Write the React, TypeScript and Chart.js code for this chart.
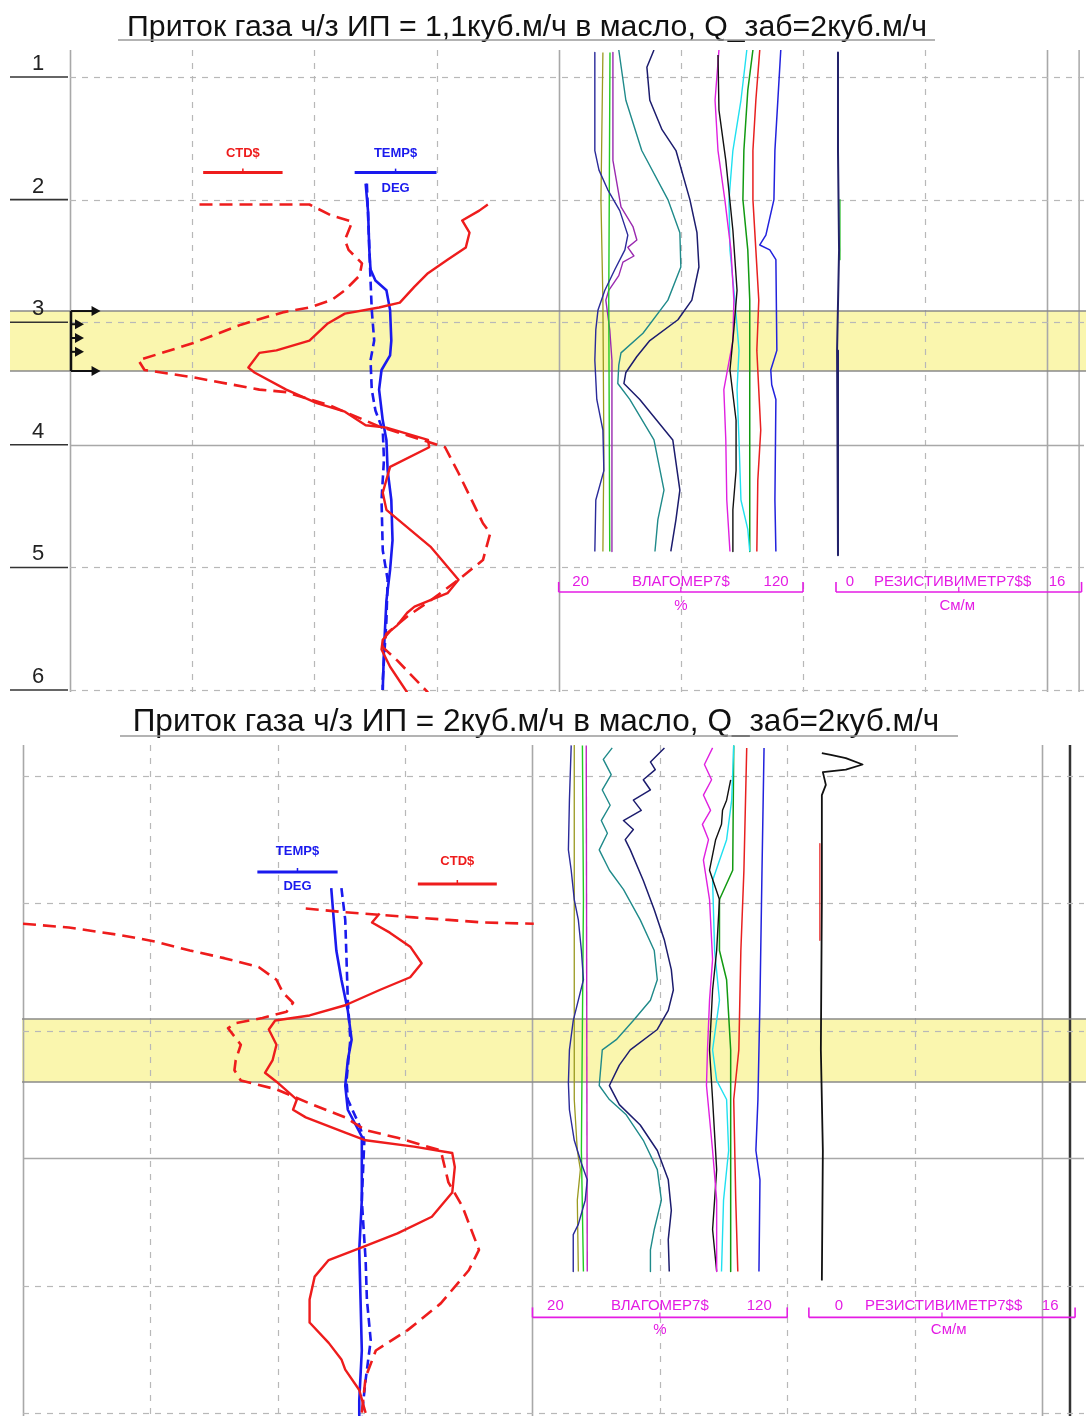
import React, { useEffect, useRef } from 'react';
import { Chart, registerables } from 'chart.js';

Chart.register(...registerables);

type P = [number, number];

// ---------------- Panel 1 data (x: track units / % / См/м, y: depth) ----------------
const P1_TITLE = 'Приток газа ч/з ИП = 1,1куб.м/ч в масло, Q_заб=2куб.м/ч';
const DEPTH_TICKS = [1, 2, 3, 4, 5, 6];

const P1_CTD_SOLID: P[] = [
  [3.42, 2.04], [3.35, 2.09], [3.21, 2.17], [3.27, 2.27], [3.24, 2.39], [3.09, 2.49], [2.93, 2.6],
  [2.82, 2.71], [2.7, 2.84], [2.53, 2.88], [2.25, 2.93], [2.11, 3.01], [1.96, 3.15], [1.69, 3.23],
  [1.55, 3.25], [1.46, 3.37], [1.51, 3.41], [1.77, 3.55], [2.02, 3.66], [2.25, 3.73], [2.42, 3.84],
  [2.59, 3.86], [2.93, 3.96], [2.94, 4.02], [2.62, 4.18], [2.56, 4.39], [2.59, 4.53], [2.95, 4.83],
  [3.18, 5.1], [3.09, 5.21], [2.82, 5.32], [2.76, 5.37], [2.68, 5.47], [2.62, 5.52], [2.56, 5.59],
  [2.55, 5.67], [2.62, 5.81], [2.76, 6.02],
];
const P1_CTD_DASH: P[] = [
  [1.06, 2.04], [1.96, 2.04], [2.14, 2.13], [2.31, 2.18], [2.25, 2.33], [2.28, 2.41], [2.39, 2.52],
  [2.37, 2.62], [2.25, 2.74], [2.14, 2.82], [1.96, 2.88], [1.74, 2.92], [1.4, 3.02], [1.01, 3.17],
  [0.56, 3.31], [0.61, 3.39], [1.01, 3.45], [1.55, 3.55], [1.77, 3.57], [2.13, 3.68], [2.53, 3.85],
  [3.07, 4.02], [3.18, 4.23], [3.38, 4.64], [3.44, 4.72], [3.38, 4.94], [3.18, 5.1], [2.95, 5.27],
  [2.76, 5.4], [2.59, 5.54], [2.56, 5.65], [2.68, 5.76], [2.93, 6.02],
];
const P1_TEMP_SOLID: P[] = [
  [2.42, 1.87], [2.44, 2.1], [2.45, 2.41], [2.46, 2.57], [2.5, 2.66], [2.59, 2.74], [2.62, 2.9],
  [2.63, 3.15], [2.62, 3.27], [2.55, 3.39], [2.53, 3.55], [2.56, 3.8], [2.59, 3.96], [2.6, 4.21],
  [2.63, 4.45], [2.64, 4.78], [2.62, 5.02], [2.59, 5.27], [2.57, 5.67], [2.56, 6.0],
];
const P1_TEMP_DASH: P[] = [
  [2.43, 1.87], [2.46, 2.66], [2.47, 2.9], [2.49, 3.15], [2.46, 3.31], [2.47, 3.55], [2.5, 3.72],
  [2.56, 3.88], [2.57, 4.12], [2.55, 4.45], [2.56, 4.86], [2.6, 5.1], [2.59, 5.43], [2.56, 5.92],
  [2.56, 6.0],
];

// ВЛАГОМЕР7$ curves, %
const P1_M_NAVY1: P[] = [
  [34.8, 0.8], [34.8, 1.6], [36.5, 1.76], [40.1, 1.92], [45.0, 2.09], [48.3, 2.29], [47.1, 2.41],
  [43.0, 2.57], [38.9, 2.74], [36.1, 2.9], [35.2, 3.06], [34.8, 3.31], [35.6, 3.63], [38.1, 3.88],
  [38.5, 4.21], [35.2, 4.45], [34.8, 4.87],
];
const P1_M_PURPLE: P[] = [
  [42.2, 0.8], [42.2, 1.68], [45.5, 2.06], [50.4, 2.22], [52.0, 2.33], [48.3, 2.39], [50.8, 2.46],
  [46.3, 2.51], [44.6, 2.62], [40.5, 2.74], [39.3, 2.82], [40.9, 3.06], [41.8, 3.31], [41.8, 4.87],
];
const P1_M_OLIVE: P[] = [[38.1, 0.8], [37.3, 2.0], [38.1, 2.82], [38.5, 4.04], [38.1, 4.87]];
const P1_M_GREEN: P[] = [[41.0, 0.8], [40.5, 2.82], [40.9, 4.87]];
const P1_M_TEAL: P[] = [
  [44.6, 0.78], [47.5, 1.19], [54.0, 1.6], [64.7, 2.0], [69.6, 2.27], [70.0, 2.55], [64.7, 2.82],
  [54.5, 3.09], [45.5, 3.25], [44.6, 3.35], [44.2, 3.5], [49.1, 3.63], [59.0, 3.96], [63.1, 4.37],
  [60.6, 4.61], [59.4, 4.87],
];
const P1_M_NAVY2: P[] = [
  [59.0, 0.78], [56.1, 0.92], [57.3, 1.19], [62.3, 1.43], [68.0, 1.6], [73.7, 2.0], [76.6, 2.27],
  [77.4, 2.55], [74.5, 2.82], [68.8, 2.98], [57.3, 3.15], [52.0, 3.28], [47.5, 3.41], [46.7, 3.5],
  [53.2, 3.63], [66.7, 3.96], [69.6, 4.37], [68.0, 4.61], [65.9, 4.87],
];
const P1_M_MAGENTA: P[] = [
  [85.6, 0.78], [84.0, 1.19], [85.2, 1.6], [88.0, 2.0], [90.5, 2.41], [91.7, 2.82], [91.3, 3.15],
  [87.6, 3.55], [88.4, 3.96], [88.8, 4.45], [90.1, 4.87],
];
const P1_M_BLACK: P[] = [
  [85.2, 0.82], [85.6, 1.27], [88.4, 1.68], [91.3, 2.25], [93.0, 2.74], [91.7, 3.06], [90.1, 3.39],
  [92.6, 3.8], [92.6, 4.21], [91.3, 4.53], [91.3, 4.87],
];
const P1_M_CYAN: P[] = [
  [97.0, 0.78], [94.6, 1.19], [91.3, 1.6], [89.7, 2.0], [90.1, 2.41], [92.1, 2.82], [93.8, 3.23],
  [93.0, 3.55], [93.8, 3.96], [94.6, 4.45], [97.4, 4.69], [98.2, 4.87],
];
const P1_M_DGREEN: P[] = [
  [99.5, 0.78], [97.4, 1.11], [95.8, 1.6], [95.4, 2.0], [97.4, 2.41], [98.2, 2.82], [98.2, 3.63], [98.2, 4.87],
];
const P1_M_RED: P[] = [
  [102.3, 0.78], [100.7, 1.19], [99.5, 1.6], [99.5, 2.0], [100.7, 2.41], [101.9, 2.82], [101.1, 3.23],
  [102.7, 3.88], [101.5, 4.29], [101.1, 4.87],
];
const P1_M_BLUE: P[] = [
  [110.9, 0.78], [109.7, 1.19], [108.5, 1.6], [108.1, 2.0], [104.8, 2.29], [102.3, 2.37], [106.4, 2.41],
  [108.9, 2.49], [109.3, 3.23], [106.8, 3.39], [107.2, 3.51], [108.9, 3.63], [108.5, 4.45], [108.9, 4.87],
];
// РЕЗИСТИВИМЕТР7$$, См/м
const P1_R_MAIN: P[] = [[0.13, 0.8], [0.13, 1.6], [0.2, 2.41], [0.07, 3.23], [0.13, 4.04], [0.13, 4.9]];
const P1_R_GREEN: P[] = [[0.26, 2.0], [0.26, 2.49]];

// ---------------- Panel 2 data ----------------
const P2_TITLE = 'Приток газа ч/з ИП = 2куб.м/ч в масло, Q_заб=2куб.м/ч';

const P2_CTD_SOLID: P[] = [
  [2.8, 2.08], [2.74, 2.15], [2.88, 2.23], [3.04, 2.34], [3.13, 2.47], [3.04, 2.58], [2.8, 2.68],
  [2.53, 2.8], [2.25, 2.88], [1.98, 2.92], [1.93, 2.99], [1.99, 3.11], [1.96, 3.23], [1.9, 3.33],
  [1.99, 3.4], [2.15, 3.54], [2.12, 3.62], [2.22, 3.68], [2.53, 3.8], [2.69, 3.86], [3.07, 3.91],
  [3.37, 3.96], [3.39, 4.07], [3.37, 4.27], [3.21, 4.46], [2.94, 4.59], [2.66, 4.7], [2.4, 4.8],
  [2.29, 4.93], [2.25, 5.11], [2.25, 5.29], [2.4, 5.45], [2.5, 5.58], [2.53, 5.66], [2.64, 5.82],
  [2.69, 6.0],
];
const P2_CTD_DASH_A: P[] = [
  [2.22, 2.04], [2.53, 2.07], [2.8, 2.09], [3.07, 2.11], [3.34, 2.13], [3.61, 2.15], [4.01, 2.16],
];
const P2_CTD_DASH_B: P[] = [
  [0.0, 2.16], [0.36, 2.19], [0.77, 2.25], [1.04, 2.3], [1.31, 2.37], [1.58, 2.43], [1.85, 2.5],
  [1.99, 2.6], [2.04, 2.7], [2.12, 2.78], [2.07, 2.85], [1.88, 2.9], [1.67, 2.94], [1.61, 2.98],
  [1.71, 3.11], [1.67, 3.23], [1.66, 3.31], [1.71, 3.39], [1.99, 3.46], [2.25, 3.57], [2.53, 3.68],
  [2.69, 3.78], [2.94, 3.84], [3.28, 3.94], [3.34, 4.19], [3.45, 4.38], [3.58, 4.72], [3.5, 4.88],
  [3.28, 5.14], [3.02, 5.35], [2.77, 5.51], [2.69, 5.72], [2.66, 6.0],
];
const P2_TEMP_SOLID: P[] = [
  [2.42, 1.88], [2.44, 2.13], [2.46, 2.37], [2.5, 2.6], [2.55, 2.84], [2.58, 3.07], [2.55, 3.23],
  [2.53, 3.43], [2.55, 3.62], [2.66, 3.83], [2.66, 4.33], [2.64, 4.72], [2.65, 5.11], [2.66, 5.51],
  [2.64, 5.9], [2.64, 6.02],
];
const P2_TEMP_DASH: P[] = [
  [2.5, 1.88], [2.53, 2.13], [2.54, 2.44], [2.55, 2.76], [2.57, 3.07], [2.54, 3.39], [2.55, 3.54],
  [2.64, 3.74], [2.68, 3.86], [2.66, 4.33], [2.69, 4.8], [2.7, 5.11], [2.73, 5.43], [2.69, 5.74],
  [2.66, 6.02],
];

const P2_M_NAVY1: P[] = [
  [35.2, 0.76], [34.5, 1.19], [34.1, 1.58], [35.2, 1.74], [36.4, 1.97], [38.0, 2.13], [39.2, 2.37],
  [40.0, 2.6], [38.0, 2.76], [36.0, 2.92], [34.5, 3.15], [34.1, 3.41], [34.5, 3.62], [36.4, 3.86],
  [39.2, 4.04], [41.5, 4.17], [40.7, 4.33], [38.0, 4.52], [36.0, 4.6], [36.0, 4.89],
];
const P2_M_OLIVE: P[] = [[36.4, 0.76], [36.4, 3.54], [37.6, 3.94], [38.8, 4.09], [37.6, 4.33], [38.0, 4.89]];
const P2_M_GREEN: P[] = [[39.6, 0.76], [40.0, 1.97], [39.2, 3.94], [40.0, 4.89]];
const P2_M_PURPLE: P[] = [[41.1, 0.76], [41.5, 4.89]];
const P2_M_TEAL: P[] = [
  [51.3, 0.78], [47.8, 0.87], [50.9, 0.99], [47.4, 1.11], [50.5, 1.23], [47.0, 1.35], [49.4, 1.45],
  [46.2, 1.58], [50.2, 1.74], [55.7, 1.89], [62.3, 2.13], [67.8, 2.37], [69.0, 2.6], [66.3, 2.76],
  [59.6, 2.92], [52.9, 3.07], [47.4, 3.15], [46.2, 3.43], [50.2, 3.54], [56.8, 3.66], [63.5, 3.86],
  [69.0, 4.09], [70.6, 4.33], [67.8, 4.56], [66.3, 4.72], [66.3, 4.89],
];
const P2_M_NAVY2: P[] = [
  [71.8, 0.78], [66.3, 0.89], [68.2, 0.95], [63.5, 1.03], [66.3, 1.11], [59.6, 1.19], [62.7, 1.27],
  [55.7, 1.35], [59.6, 1.42], [56.4, 1.5], [58.4, 1.58], [63.5, 1.82], [67.8, 2.05], [71.8, 2.29],
  [74.5, 2.52], [75.3, 2.68], [73.3, 2.84], [69.0, 2.99], [58.4, 3.15], [54.1, 3.27], [50.2, 3.43],
  [54.1, 3.58], [62.3, 3.74], [69.0, 3.94], [73.3, 4.17], [74.5, 4.41], [73.3, 4.64], [73.7, 4.89],
];
const P2_M_MAGENTA: P[] = [
  [90.7, 0.78], [87.5, 0.91], [90.3, 1.03], [87.1, 1.15], [89.9, 1.27], [86.7, 1.38], [89.1, 1.5],
  [87.1, 1.66], [89.5, 1.97], [90.7, 2.44], [89.5, 2.76], [88.7, 3.15], [88.3, 3.43], [90.7, 3.94],
  [92.3, 4.33], [92.3, 4.89],
];
const P2_M_BLACK: P[] = [
  [97.8, 1.03], [96.2, 1.19], [94.6, 1.27], [94.2, 1.38], [91.9, 1.5], [89.5, 1.74], [93.4, 1.97],
  [92.3, 2.37], [90.7, 2.68], [89.5, 3.15], [90.7, 3.54], [92.3, 4.09], [90.7, 4.56], [92.3, 4.89],
];
const P2_M_CYAN: P[] = [
  [99.0, 0.76], [98.2, 1.19], [96.2, 1.5], [90.7, 1.82], [91.5, 2.37], [93.4, 2.76], [90.7, 3.15],
  [92.3, 3.39], [96.2, 3.54], [97.0, 3.94], [95.0, 4.33], [94.2, 4.89],
];
const P2_M_DGREEN: P[] = [
  [99.0, 0.76], [98.6, 1.74], [93.4, 1.97], [93.4, 2.37], [96.2, 2.6], [97.8, 3.15], [97.8, 4.89],
];
const P2_M_RED: P[] = [
  [104.1, 0.78], [103.0, 1.74], [101.8, 2.37], [101.0, 3.15], [99.0, 3.54], [99.8, 4.33], [100.6, 4.89],
];
const P2_M_BLUE: P[] = [
  [110.9, 0.78], [110.1, 1.74], [109.3, 2.76], [108.5, 3.54], [107.7, 3.94], [109.3, 4.17], [108.9, 4.89],
];
const P2_R_MAIN: P[] = [
  [0.78, 0.82], [1.32, 0.835], [2.22, 0.86], [3.23, 0.91], [2.22, 0.95], [0.84, 0.97], [1.02, 1.07],
  [0.78, 1.15], [0.78, 1.97], [0.72, 3.15], [0.84, 3.94], [0.78, 4.96],
];
const P2_R_RED: P[] = [[0.66, 1.53], [0.66, 2.29]];

// ---------------- styling ----------------
const FONT = '"Liberation Sans", Arial, sans-serif';
const RED = '#ee1c1c';
const BLUE = '#1a1aee';
const MAG = '#e41ce4';
const BAND = '#faf6ae';

type Series = { data: P[]; axis: string; color: string; width: number; dash?: number[] };

const leftSeries = (cs: P[], cd: P[][], ts: P[], td: P[]): Series[] => [
  ...cd.map((d) => ({ data: d, axis: 'x', color: RED, width: 2.6, dash: [13, 7] })),
  { data: cs, axis: 'x', color: RED, width: 2.4 },
  { data: td, axis: 'x', color: BLUE, width: 2.6, dash: [9, 5] },
  { data: ts, axis: 'x', color: BLUE, width: 2.6 },
];

const P1_SERIES: Series[] = [
  ...leftSeries(P1_CTD_SOLID, [P1_CTD_DASH], P1_TEMP_SOLID, P1_TEMP_DASH),
  { data: P1_M_NAVY1, axis: 'xm', color: '#2a2a9a', width: 1.4 },
  { data: P1_M_OLIVE, axis: 'xm', color: '#9a9a20', width: 1.3 },
  { data: P1_M_GREEN, axis: 'xm', color: '#22cc22', width: 1.4 },
  { data: P1_M_PURPLE, axis: 'xm', color: '#9a2ab0', width: 1.4 },
  { data: P1_M_TEAL, axis: 'xm', color: '#1f8a8a', width: 1.4 },
  { data: P1_M_NAVY2, axis: 'xm', color: '#1c1c6e', width: 1.5 },
  { data: P1_M_BLACK, axis: 'xm', color: '#111111', width: 1.4 },
  { data: P1_M_MAGENTA, axis: 'xm', color: '#e020e0', width: 1.4 },
  { data: P1_M_CYAN, axis: 'xm', color: '#20e0f0', width: 1.4 },
  { data: P1_M_DGREEN, axis: 'xm', color: '#129a12', width: 1.5 },
  { data: P1_M_RED, axis: 'xm', color: '#e82020', width: 1.5 },
  { data: P1_M_BLUE, axis: 'xm', color: '#2222dd', width: 1.5 },
  { data: P1_R_MAIN, axis: 'xr', color: '#22226a', width: 2 },
  { data: P1_R_GREEN, axis: 'xr', color: '#22bb22', width: 1.2 },
];

const P2_SERIES: Series[] = [
  ...leftSeries(P2_CTD_SOLID, [P2_CTD_DASH_A, P2_CTD_DASH_B], P2_TEMP_SOLID, P2_TEMP_DASH),
  { data: P2_M_NAVY1, axis: 'xm', color: '#2a2a9a', width: 1.4 },
  { data: P2_M_OLIVE, axis: 'xm', color: '#9a9a20', width: 1.3 },
  { data: P2_M_GREEN, axis: 'xm', color: '#22cc22', width: 1.4 },
  { data: P2_M_PURPLE, axis: 'xm', color: '#c020c0', width: 1.4 },
  { data: P2_M_TEAL, axis: 'xm', color: '#1f8a8a', width: 1.4 },
  { data: P2_M_NAVY2, axis: 'xm', color: '#1c1c6e', width: 1.5 },
  { data: P2_M_MAGENTA, axis: 'xm', color: '#e020e0', width: 1.4 },
  { data: P2_M_BLACK, axis: 'xm', color: '#111111', width: 1.4 },
  { data: P2_M_CYAN, axis: 'xm', color: '#20e0f0', width: 1.4 },
  { data: P2_M_DGREEN, axis: 'xm', color: '#129a12', width: 1.5 },
  { data: P2_M_RED, axis: 'xm', color: '#e82020', width: 1.5 },
  { data: P2_M_BLUE, axis: 'xm', color: '#2222dd', width: 1.5 },
  { data: P2_R_MAIN, axis: 'xr', color: '#111111', width: 1.8 },
  { data: P2_R_RED, axis: 'xr', color: '#e82020', width: 1.2 },
];

type Hdr = { x0: number; x1: number; yLine: number; yText: number; text: string; color: string; sub?: string; ySub?: number };

type PanelCfg = {
  top: number; height: number;
  pad: { left: number; top: number; right: number; bottom: number };
  xMax: number; yMin: number; yMax: number;
  resU0: number; resU1: number;
  title: string; titleCenter: number; titleWidth: number; titleBase: number;
  underline: [number, number, number];
  band: [number, number]; bandLeft: number;
  depthLabels: boolean; arrows: boolean;
  rightBorder: { u: number; color: string; width: number };
  headers: Hdr[];
  bottomHdr: { yBracket: number; yText: number; ySub: number };
  resTextPos: [number, number, number];
  series: Series[];
};

const PANELS: PanelCfg[] = [
  {
    top: 0, height: 700,
    pad: { left: 70, top: 50, right: 2, bottom: 8 },
    xMax: 8.3, yMin: 0.78, yMax: 6.016,
    resU0: 6.27, resU1: 8.28,
    title: P1_TITLE, titleCenter: 527, titleWidth: 800, titleBase: 36,
    underline: [118, 935, 40],
    band: [2.909, 3.398], bandLeft: 10,
    depthLabels: true, arrows: true,
    rightBorder: { u: 8.26, color: '#a8a8a8', width: 1.5 },
    headers: [
      { x0: 1.09, x1: 1.74, yLine: 1.78, yText: 1.62, text: 'CTD$', color: RED },
      { x0: 2.33, x1: 3.0, yLine: 1.78, yText: 1.62, text: 'TEMP$', color: BLUE, sub: 'DEG', ySub: 1.905 },
    ],
    bottomHdr: { yBracket: 5.2, yText: 5.12, ySub: 5.31 },
    resTextPos: [0.9, 7.6, 14.4],
    series: P1_SERIES,
  },
  {
    top: 700, height: 716,
    pad: { left: 23, top: 45, right: 2, bottom: 0 },
    xMax: 8.33, yMin: 0.757, yMax: 6.024,
    resU0: 6.17, resU1: 8.26,
    title: P2_TITLE, titleCenter: 536, titleWidth: 807, titleBase: 31,
    underline: [120, 958, 36],
    band: [2.907, 3.402], bandLeft: 22,
    depthLabels: false, arrows: false,
    rightBorder: { u: 8.22, color: '#333333', width: 2.5 },
    headers: [
      { x0: 1.84, x1: 2.47, yLine: 1.754, yText: 1.589, text: 'TEMP$', color: BLUE, sub: 'DEG', ySub: 1.871 },
      { x0: 3.1, x1: 3.72, yLine: 1.848, yText: 1.667, text: 'CTD$', color: RED },
    ],
    bottomHdr: { yBracket: 5.25, yText: 5.16, ySub: 5.35 },
    resTextPos: [1.8, 8.1, 14.5],
    series: P2_SERIES,
  },
];

function line(ctx: CanvasRenderingContext2D, x0: number, y0: number, x1: number, y1: number, color: string, w: number, dash: number[] = []) {
  ctx.save();
  ctx.strokeStyle = color;
  ctx.lineWidth = w;
  ctx.setLineDash(dash);
  ctx.beginPath();
  ctx.moveTo(x0, y0);
  ctx.lineTo(x1, y1);
  ctx.stroke();
  ctx.restore();
}

function text(ctx: CanvasRenderingContext2D, s: string, x: number, y: number, font: string, color: string, align: CanvasTextAlign = 'center') {
  ctx.save();
  ctx.font = font;
  ctx.fillStyle = color;
  ctx.textAlign = align;
  ctx.textBaseline = 'middle';
  ctx.fillText(s, x, y);
  ctx.restore();
}

function arrowHead(ctx: CanvasRenderingContext2D, x: number, y: number) {
  ctx.save();
  ctx.fillStyle = '#111';
  ctx.beginPath();
  ctx.moveTo(x, y);
  ctx.lineTo(x - 9, y - 5);
  ctx.lineTo(x - 9, y + 5);
  ctx.closePath();
  ctx.fill();
  ctx.restore();
}

function makeDecor(cfg: PanelCfg) {
  return {
    id: 'decor',
    beforeDatasetsDraw(chart: any) {
      const { ctx, chartArea: ca, scales } = chart;
      const x = scales.x, y = scales.y;
      const W = chart.width;
      // band
      const b0 = y.getPixelForValue(cfg.band[0]);
      const b1 = y.getPixelForValue(cfg.band[1]);
      ctx.save();
      ctx.fillStyle = BAND;
      ctx.fillRect(cfg.bandLeft, b0, W - cfg.bandLeft, b1 - b0);
      ctx.restore();
      // vertical grid
      for (let u = 0; u <= 8; u++) {
        const px = Math.round(x.getPixelForValue(u)) + 0.5;
        const solid = u % 4 === 0;
        line(ctx, px, ca.top, px, ca.bottom, solid ? '#a8a8a8' : '#b8b8b8', solid ? 1.6 : 1.2, solid ? [] : [6, 7]);
      }
      const rb = x.getPixelForValue(cfg.rightBorder.u);
      line(ctx, rb, ca.top, rb, ca.bottom, cfg.rightBorder.color, cfg.rightBorder.width);
      // horizontal grid
      DEPTH_TICKS.forEach((d) => {
        const py = Math.round(y.getPixelForValue(d)) + 0.5;
        const solid = d === 4;
        line(ctx, ca.left, py, ca.right, py, solid ? '#a8a8a8' : '#b8b8b8', solid ? 1.6 : 1.2, solid ? [] : [6, 6]);
      });
      // band edges
      line(ctx, cfg.bandLeft, b0, W, b0, '#8a8a8a', 1.5);
      line(ctx, cfg.bandLeft, b1, W, b1, '#8a8a8a', 1.5);
      // depth labels
      if (cfg.depthLabels) {
        DEPTH_TICKS.forEach((d) => {
          const py = y.getPixelForValue(d);
          line(ctx, 10, py, ca.left - 2, py, '#333', 1.6);
          text(ctx, String(d), 38, py - 13, `22px ${FONT}`, '#222');
        });
      }
    },
    afterDatasetsDraw(chart: any) {
      const { ctx, chartArea: ca, scales } = chart;
      const x = scales.x, y = scales.y, xm = scales.xm, xr = scales.xr;
      // title
      ctx.save();
      ctx.font = `100px ${FONT}`;
      const w100 = ctx.measureText(cfg.title).width;
      const size = (100 * cfg.titleWidth) / w100;
      ctx.restore();
      ctx.save();
      ctx.font = `${size}px ${FONT}`;
      ctx.fillStyle = '#111';
      ctx.textAlign = 'center';
      ctx.textBaseline = 'alphabetic';
      ctx.fillText(cfg.title, cfg.titleCenter, cfg.titleBase);
      ctx.restore();
      line(ctx, cfg.underline[0], cfg.underline[2], cfg.underline[1], cfg.underline[2], '#9a9a9a', 1.5);
      // curve headers
      cfg.headers.forEach((h) => {
        const x0 = x.getPixelForValue(h.x0), x1 = x.getPixelForValue(h.x1);
        const yl = y.getPixelForValue(h.yLine);
        line(ctx, x0, yl, x1, yl, h.color, 3);
        line(ctx, (x0 + x1) / 2, yl - 4, (x0 + x1) / 2, yl, h.color, 1.5);
        text(ctx, h.text, (x0 + x1) / 2, y.getPixelForValue(h.yText), `bold 13px ${FONT}`, h.color);
        if (h.sub && h.ySub) text(ctx, h.sub, (x0 + x1) / 2, y.getPixelForValue(h.ySub), `bold 13px ${FONT}`, h.color);
      });
      // arrows
      if (cfg.arrows) {
        const b0 = y.getPixelForValue(cfg.band[0]);
        const b1 = y.getPixelForValue(cfg.band[1]);
        const lx = ca.left + 1;
        line(ctx, lx, b0, lx, b1, '#111', 2.5);
        const longX = x.getPixelForValue(0.25);
        [b0, b1].forEach((py) => {
          line(ctx, lx, py, longX - 4, py, '#111', 2);
          arrowHead(ctx, longX, py);
        });
        [0.22, 0.45, 0.68].forEach((f) => {
          const py = b0 + (b1 - b0) * f;
          line(ctx, lx, py, lx + 6, py, '#111', 2);
          arrowHead(ctx, lx + 13, py);
        });
      }
      // bottom headers
      const bh = cfg.bottomHdr;
      const yb = y.getPixelForValue(bh.yBracket);
      const yt = y.getPixelForValue(bh.yText);
      const ys = y.getPixelForValue(bh.ySub);
      const bracket = (p0: number, p1: number) => {
        line(ctx, p0, yb, p1, yb, MAG, 1.6);
        line(ctx, p0, yb - 10, p0, yb, MAG, 1.6);
        line(ctx, p1, yb - 10, p1, yb, MAG, 1.6);
        line(ctx, (p0 + p1) / 2, yb - 5, (p0 + p1) / 2, yb, MAG, 1.2);
      };
      const f = `15px ${FONT}`;
      bracket(xm.getPixelForValue(20), xm.getPixelForValue(120));
      text(ctx, '20', xm.getPixelForValue(29), yt, f, MAG);
      text(ctx, 'ВЛАГОМЕР7$', xm.getPixelForValue(70), yt, f, MAG);
      text(ctx, '120', xm.getPixelForValue(109), yt, f, MAG);
      text(ctx, '%', xm.getPixelForValue(70), ys, f, MAG);
      bracket(xr.getPixelForValue(0), xr.getPixelForValue(16));
      const [r0, rc, r16] = cfg.resTextPos;
      text(ctx, '0', xr.getPixelForValue(r0), yt, f, MAG);
      text(ctx, 'РЕЗИСТИВИМЕТР7$$', xr.getPixelForValue(rc), yt, f, MAG);
      text(ctx, '16', xr.getPixelForValue(r16), yt, f, MAG);
      text(ctx, 'См/м', xr.getPixelForValue(rc + 0.3), ys, f, MAG);
    },
  };
}

function buildChart(canvas: HTMLCanvasElement, cfg: PanelCfg) {
  const k = 16 / (cfg.resU1 - cfg.resU0);
  const datasets = cfg.series.map((s) => ({
    data: s.data.map(([vx, vy]) => ({ x: vx, y: vy })),
    xAxisID: s.axis,
    yAxisID: 'y',
    borderColor: s.color,
    backgroundColor: s.color,
    borderWidth: s.width,
    borderDash: s.dash || [],
    showLine: true,
    pointRadius: 0,
    pointHoverRadius: 0,
    fill: false,
    tension: 0,
    borderJoinStyle: 'round' as const,
  }));
  return new Chart(canvas, {
    type: 'scatter',
    data: { datasets },
    options: {
      responsive: false,
      animation: false,
      devicePixelRatio: 1,
      layout: { padding: cfg.pad },
      plugins: { legend: { display: false }, tooltip: { enabled: false }, title: { display: false } },
      events: [],
      scales: {
        x: { type: 'linear', position: 'bottom', min: 0, max: cfg.xMax, display: false },
        xm: { type: 'linear', position: 'bottom', min: 20 - 4 * 50, max: 20 + (cfg.xMax - 4) * 50, display: false },
        xr: { type: 'linear', position: 'bottom', min: -cfg.resU0 * k, max: (cfg.xMax - cfg.resU0) * k, display: false },
        y: { type: 'linear', position: 'left', min: cfg.yMin, max: cfg.yMax, reverse: true, display: false },
      },
    },
    plugins: [makeDecor(cfg)],
  } as any);
}

function Panel({ cfg }: { cfg: PanelCfg }) {
  const ref = useRef<HTMLCanvasElement>(null);
  useEffect(() => {
    if (!ref.current) return;
    const chart = buildChart(ref.current, cfg);
    return () => chart.destroy();
  }, [cfg]);
  return (
    <canvas
      ref={ref}
      width={1086}
      height={cfg.height}
      style={{ position: 'absolute', left: 0, top: cfg.top, width: 1086, height: cfg.height, display: 'block' }}
    />
  );
}

export default function App() {
  return (
    <div style={{ position: 'absolute', left: 0, top: 0, width: 1086, height: 1416, background: '#ffffff', overflow: 'hidden' }}>
      {PANELS.map((p, i) => (
        <Panel key={i} cfg={p} />
      ))}
    </div>
  );
}
